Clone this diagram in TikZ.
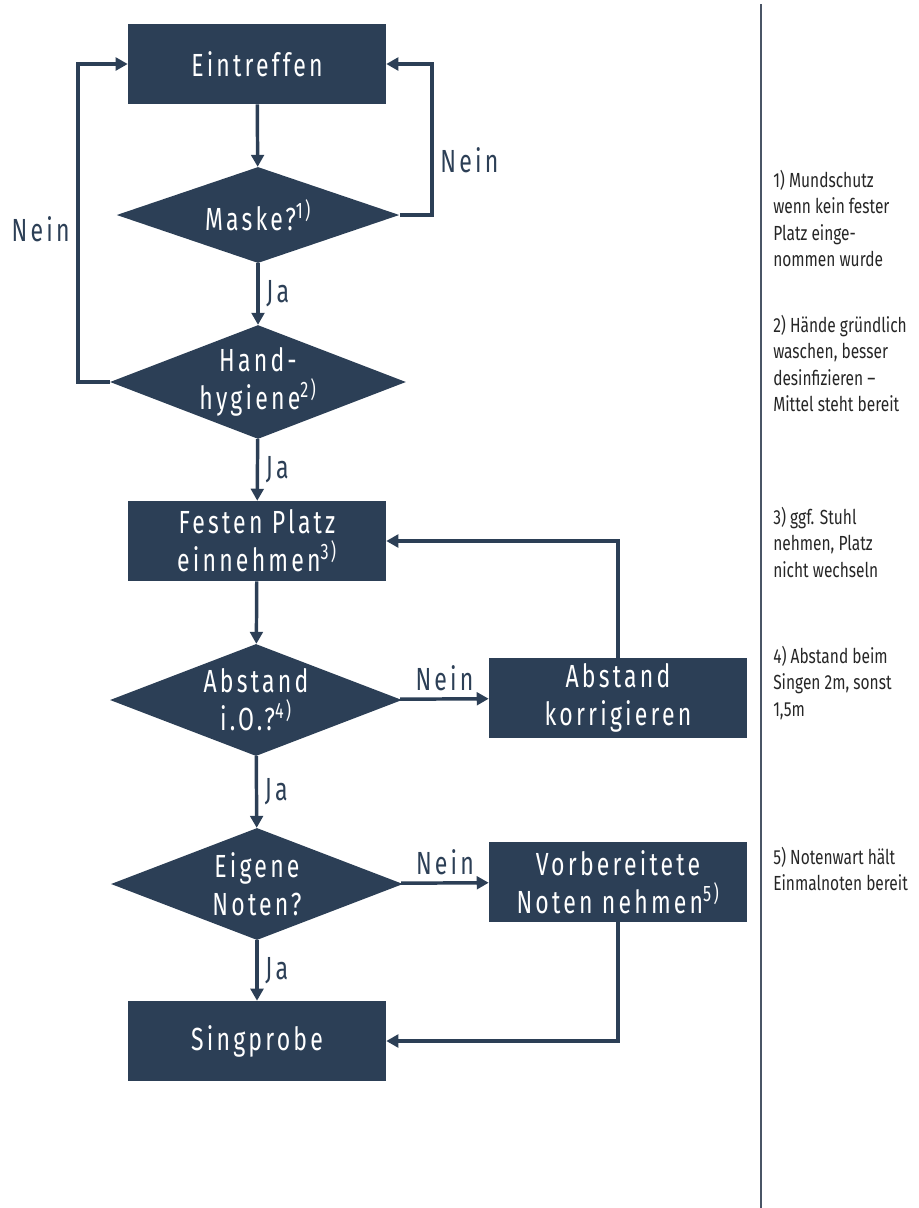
\documentclass[tikz,border=0pt]{standalone}
\usepackage{fontspec}
\setmainfont{Fira Sans}[FakeStretch=0.76]
\newfontfamily\boxfont{Fira Sans}[FakeStretch=0.72, LetterSpace=10]
\usetikzlibrary{shapes.geometric, arrows.meta}
\definecolor{slate}{HTML}{2C3F56}
\definecolor{divider}{HTML}{4A5566}
\tikzset{
  process/.style={
    fill=slate, text=white,
    minimum width=193.5pt, minimum height=60pt, inner sep=0pt,
    font=\boxfont\fontsize{24}{28.5}\selectfont, align=center
  },
  decision/.style={
    diamond, aspect=2.6, fill=slate, text=white, inner sep=0pt,
    minimum width=219pt, minimum height=84pt,
    font=\boxfont\fontsize{24}{28.5}\selectfont, align=center
  },
  flow/.style={draw=slate, line width=2.6pt, -{Triangle[length=9pt, width=9.5pt]}},
  answer/.style={font=\boxfont\fontsize{24}{28}\selectfont, text=slate, inner sep=5pt},
  remark/.style={
    anchor=north west, inner sep=0pt, align=left, text=black!85,
    font=\fontsize{15.3}{19.8}\selectfont
  },
}

\begin{document}
\begin{tikzpicture}[x=0.75pt, y=-0.75pt]
  \useasboundingbox (0,0) rectangle (919,1208);

  % flow chart
  \node[process]  (arrive)    at (257,64)   {Eintreffen};
  \node[decision, minimum width=212pt, minimum height=72pt]
                  (mask)      at (258,215)  {Maske?\textsuperscript{1)}};
  \node[decision] (hygiene)   at (258,382)  {Hand-\\hygiene\textsuperscript{2)}};
  \node[process]  (seat)      at (257,541)  {Festen Platz\\einnehmen\textsuperscript{3)}};
  \node[decision] (distance)  at (256,700)  {Abstand\\i.O.?\textsuperscript{4)}};
  \node[process]  (fixdist)   at (618,698)  {Abstand\\korrigieren};
  \node[decision] (ownnotes)  at (257,884)  {Eigene\\Noten?};
  \node[process]  (prepared)  at (618,882)  {Vorbereitete\\Noten nehmen\textsuperscript{5)}};
  \node[process]  (rehearsal) at (257,1041) {Singprobe};

  \coordinate (maskturn) at (432,64);
  \coordinate (hygturn)  at (78,64);

  \draw[flow] (arrive) -- (mask);
  \draw[flow] (mask) -- node[answer, right] {Ja} (hygiene);
  \draw[flow] (mask.east) -| node[answer, right, pos=0.68] {Nein} (maskturn) -- (arrive.east);
  \draw[flow] (hygiene.west) -| node[answer, left, pos=0.74] {Nein} (hygturn) -- (arrive.west);
  \draw[flow] (hygiene) -- node[answer, right] {Ja} (seat);
  \draw[flow] (seat) -- (distance);
  \draw[flow] (distance) -- node[answer, above] {Nein} (fixdist);
  \draw[flow] (fixdist.north) |- (seat.east);
  \draw[flow] (distance) -- node[answer, right] {Ja} (ownnotes);
  \draw[flow] (ownnotes) -- node[answer, above] {Nein} (prepared);
  \draw[flow] (ownnotes) -- node[answer, right] {Ja} (rehearsal);
  \draw[flow] (prepared.south) |- (rehearsal.east);

  % notes column
  \draw[divider, line width=1.1pt] (761,4) -- (761,1208);
  \node[remark] (note1) at (773,170) {1) Mundschutz\\wenn kein fester\\Platz einge-\\nommen wurde};
  \node[remark] (note2) at (773,315) {2) Hände gründlich\\waschen, besser\\desinfizieren –\\Mittel steht bereit};
  \node[remark] (note3) at (773,507) {3) ggf. Stuhl\\nehmen, Platz\\nicht wechseln};
  \node[remark] (note4) at (773,646) {4) Abstand beim\\Singen 2m, sonst\\1,5m};
  \node[remark] (note5) at (773,847) {5) Notenwart hält\\Einmalnoten bereit};
\end{tikzpicture}
\end{document}
